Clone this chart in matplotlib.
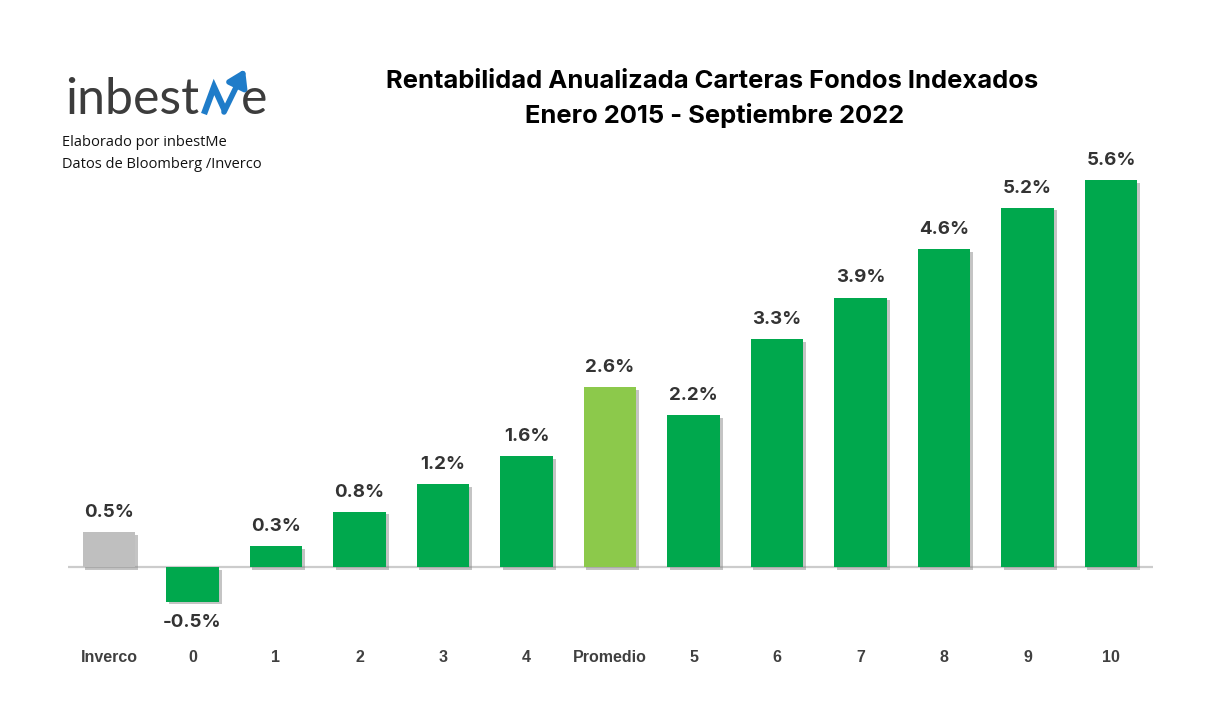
import matplotlib
matplotlib.use("Agg")
import matplotlib.pyplot as plt
import matplotlib.patheffects as pe
from matplotlib.lines import Line2D
from matplotlib.patches import FancyArrowPatch

categories = ["Inverco", "0", "1", "2", "3", "4", "Promedio", "5", "6", "7", "8", "9", "10"]
values = [0.5, -0.5, 0.3, 0.8, 1.2, 1.6, 2.6, 2.2, 3.3, 3.9, 4.6, 5.2, 5.6]
labels = ["0.5%", "-0.5%", "0.3%", "0.8%", "1.2%", "1.6%", "2.6%", "2.2%", "3.3%", "3.9%", "4.6%", "5.2%", "5.6%"]

GREEN = "#00a84d"
LIGHT = "#8cc94b"
GREY = "#bfbfbf"
BLUE = "#1f7cc9"
colors = [GREY if c == "Inverco" else LIGHT if c == "Promedio" else GREEN for c in categories]

W, H = 12.22, 7.06
fig = plt.figure(figsize=(W, H), dpi=100)


def fx(px):
    return px / 1222


def fy(py):
    return 1 - py / 706


left_px, right_px, top_px, bot_px = 68, 1153, 150, 640
ax = fig.add_axes([fx(left_px), fy(bot_px), (right_px - left_px) / 1222, (bot_px - top_px) / 706])
zero_px = 567
ppu = 69.1
ax.set_ylim((zero_px - bot_px) / ppu, (zero_px - top_px) / ppu)
ax.set_xlim((68 - 109) / 83.5, (1153 - 109) / 83.5)

x = list(range(len(categories)))
ax.bar(x, values, width=0.63, color=colors, zorder=3,
       path_effects=[pe.SimplePatchShadow(offset=(2, -2), shadow_rgbFace="#8a8a8a", alpha=0.5), pe.Normal()])
ax.axhline(0, color="#cccccc", lw=1.6, zorder=2)

vfont = ["Inter", "DejaVu Sans"]
for xi, v, lab in zip(x, values, labels):
    if v >= 0:
        ax.annotate(lab, (xi, v), xytext=(0, 8), textcoords="offset points", ha="center", va="bottom",
                    fontsize=13.5, fontweight="bold", color="#333333", family=vfont)
    else:
        ax.annotate(lab, (xi, v), xytext=(0, -9), textcoords="offset points", ha="center", va="top",
                    fontsize=13.5, fontweight="bold", color="#333333", family=vfont)

ax.set_xticks(x)
ax.set_xticklabels(categories, fontsize=11.5, fontweight="bold", color="#404040",
                   family=["Liberation Sans", "DejaVu Sans"])
ax.tick_params(axis="x", length=0, pad=7)
ax.set_yticks([])
for s in ax.spines.values():
    s.set_visible(False)

# title
tfont = ["Inter", "DejaVu Sans"]
fig.text(fx(712), fy(82), "Rentabilidad Anualizada Carteras Fondos Indexados", ha="center", va="center",
         fontsize=18.4, fontweight="bold", color="#000000", family=tfont)
fig.text(fx(715), fy(115), "Enero 2015 - Septiembre 2022", ha="center", va="center",
         fontsize=18.4, fontweight="bold", color="#000000", family=tfont)

# logo
fig.text(fx(65), fy(114), "inbest", ha="left", va="baseline", fontsize=36, fontweight="normal",
         color="#3c3c3c", family=["Lato", "DejaVu Sans"])
# stylised M with arrow
mx = [fx(204), fx(214), fx(225)]
my = [fy(114), fy(87), fy(111)]
fig.add_artist(Line2D(mx, my, transform=fig.transFigure, color=BLUE, lw=4.5, solid_joinstyle="miter",
                      solid_capstyle="butt"))
fig.add_artist(FancyArrowPatch((fx(224), fy(112)), (fx(245), fy(69)), transform=fig.transFigure,
                               arrowstyle="-|>,head_length=0.7,head_width=0.45", mutation_scale=14,
                               color=BLUE, lw=4.0, shrinkA=0, shrinkB=0))
fig.text(fx(241), fy(114), "e", ha="left", va="baseline", fontsize=36, fontweight="normal",
         color="#3c3c3c", family=["Lato", "DejaVu Sans"])

fig.text(fx(62), fy(142), "Elaborado por inbestMe", ha="left", va="center", fontsize=10.5,
         color="#111111", family=["Open Sans", "DejaVu Sans"])
fig.text(fx(62), fy(164), "Datos de Bloomberg /Inverco", ha="left", va="center", fontsize=10.5,
         color="#111111", family=["Open Sans", "DejaVu Sans"])

fig.savefig("out.png", dpi=100, facecolor="white")
